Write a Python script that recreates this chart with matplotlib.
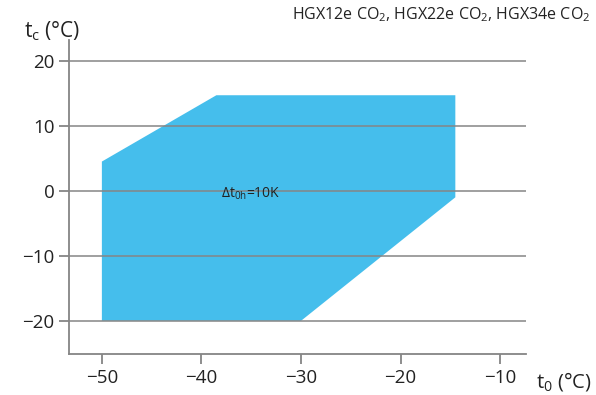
import matplotlib.pyplot as plt

# -------------------------------
# DATA (application limits)
# -------------------------------
t0 = [-50, -50, -38.5, -14.5, -14.5, -30]
tc = [-20, 4.5, 14.7, 14.7, -1, -20]
x_ticks = [-50, -40, -30, -20, -10]
y_ticks = [-20, -10, 0, 10, 20]
title = "HGX12e CO$_2$, HGX22e CO$_2$, HGX34e CO$_2$"

plt.rcParams['font.family'] = ['Open Sans', 'DejaVu Sans']
plt.rcParams['mathtext.fontset'] = 'custom'
plt.rcParams['mathtext.rm'] = 'Open Sans'
plt.rcParams['mathtext.it'] = 'Open Sans'

grey = "#858585"
fig = plt.figure(figsize=(5.96, 3.95), dpi=100)
ax = fig.add_axes([0.1158, 0.1038, 0.7668, 0.795])

ax.fill(t0, tc, color="#45BEEC", lw=0, zorder=1)

ax.set_xlim(-53.3, -7.4)
ax.set_ylim(-25.1, 23.2)
ax.set_xticks(x_ticks)
ax.set_yticks(y_ticks)
ax.set_xticklabels([f"\u2212{abs(v)}" for v in x_ticks])
ax.set_yticklabels([("\u2212" + str(abs(v))) if v < 0 else str(v) for v in y_ticks])

ax.grid(axis="y", color=grey, lw=1.1, zorder=2)
ax.set_axisbelow(False)
for s in ["top", "right"]:
    ax.spines[s].set_visible(False)
for s in ["left", "bottom"]:
    ax.spines[s].set_color(grey)
    ax.spines[s].set_linewidth(1.3)
ax.tick_params(colors=grey, labelcolor="#222222", labelsize=13.5,
               length=7, width=1.3, direction="out")

ax.text(-38, -0.4, r"$\Delta$t$_{0h}$=10K", fontsize=10, color="#222222",
        ha="left", va="center", zorder=3)

fig.text(0.99, 0.962, title, fontsize=11.5, color="#222222", ha="right", va="center")
fig.text(0.04, 0.922, "t$_c$ (°C)", fontsize=15, color="#222222", ha="left", va="center")
fig.text(0.9, 0.035, "t$_0$ (°C)", fontsize=14.5, color="#222222", ha="left", va="center")

plt.savefig("out.png", dpi=100)
